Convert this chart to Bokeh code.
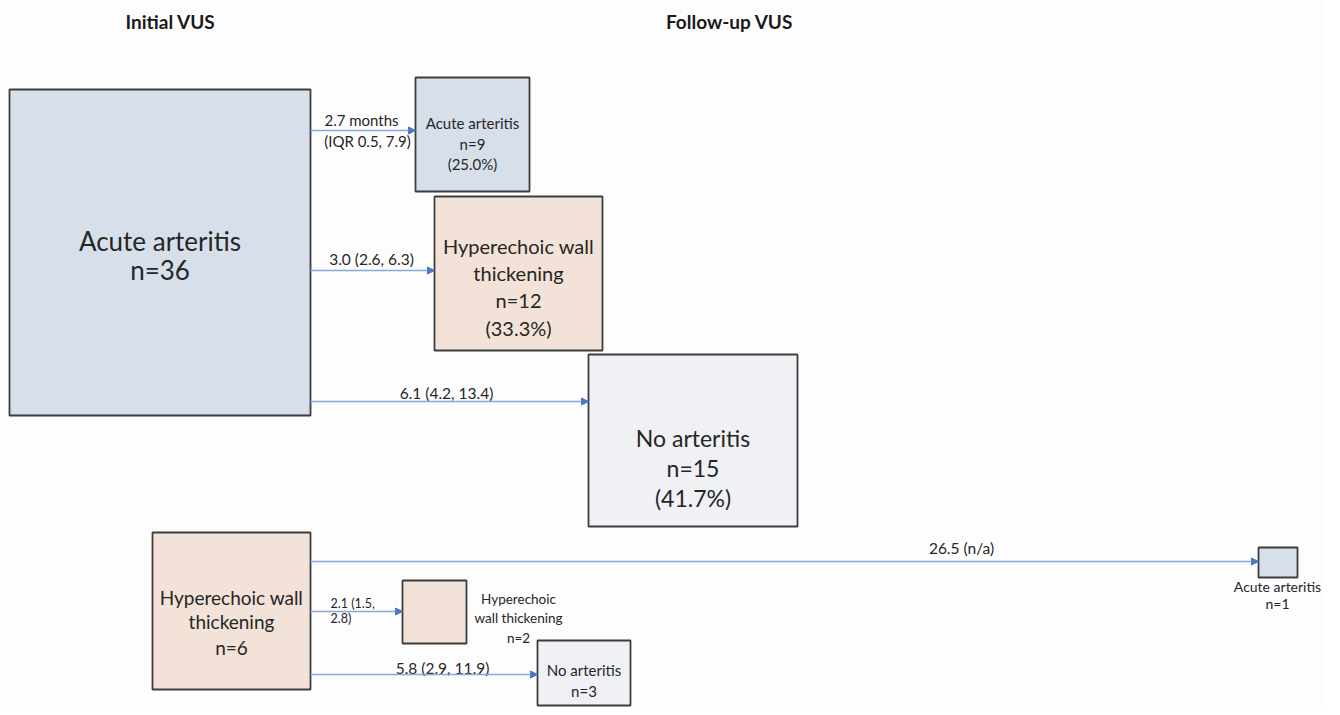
from bokeh.plotting import figure
from bokeh.models import ColumnDataSource, Arrow, NormalHead, Range1d
from bokeh.core.properties import value
from bokeh.embed import file_html
from bokeh.resources import INLINE

# ---------------- data ----------------
column_titles = ["Initial VUS", "Follow-up VUS"]

box_states = ["Acute arteritis", "Acute arteritis", "Hyperechoic wall thickening",
              "No arteritis", "Hyperechoic wall thickening", "Hyperechoic wall thickening",
              "No arteritis", "Acute arteritis"]
box_counts = [36, 9, 12, 15, 6, 2, 3, 1]
box_pcts = ["", "(25.0%)", "(33.3%)", "(41.7%)", "", "", "", ""]

flow_from = [0, 0, 0, 4, 4, 4]
flow_to = [1, 2, 3, 7, 5, 6]
flow_times = ["2.7 months\n(IQR 0.5, 7.9)", "3.0 (2.6, 6.3)", "6.1 (4.2, 13.4)",
              "26.5 (n/a)", "2.1 (1.5,\n2.8)", "5.8 (2.9, 11.9)"]

# ---------------- layout (screen-pixel coordinates) ----------------
box_left = [9, 415, 434, 588, 152, 402, 537, 1258]
box_right = [310, 529, 602, 797, 310, 466, 630, 1297]
box_top = [89, 77, 196, 354, 532, 580, 640, 547]
box_bottom = [415, 191, 350, 526, 689, 643, 705, 577]
state_color = {"Acute arteritis": "#d7dfeb", "Hyperechoic wall thickening": "#f3e2d7",
               "No arteritis": "#eff1f4"}
flow_y = [130, 270, 401, 561, 611, 674]

p = figure(width=1324, height=707, output_backend="svg", toolbar_location=None,
           x_range=Range1d(0, 1324), y_range=Range1d(707, 0), min_border=0)
p.axis.visible = False
p.grid.visible = False
p.outline_line_color = None
p.background_fill_color = "#fdfdfd"
p.border_fill_color = "#fdfdfd"

FONT = value("Lato")

# boxes
bsrc = ColumnDataSource(dict(
    left=box_left, right=box_right, top=box_top, bottom=box_bottom,
    fill=[state_color[s] for s in box_states]))
p.quad(left="left", right="right", top="top", bottom="bottom", source=bsrc,
       fill_color="fill", line_color="#3d3d3d", line_width=1.8)

# flows
for i, (a, b) in enumerate(zip(flow_from, flow_to)):
    y = flow_y[i]
    p.add_layout(Arrow(end=NormalHead(size=7, fill_color="#4a78c2", line_color="#4a78c2"),
                       x_start=box_right[a], y_start=y, x_end=box_left[b], y_end=y,
                       line_color="#8aa8da", line_width=1.3))

# titles
p.text(x=[170, 729], y=[21, 21], text=column_titles, text_font=value("Lato"),
       text_font_style="bold", text_font_size="19px", text_align="center",
       text_baseline="middle", text_color="#1a1a1a")

def txt(x, y, s, size, align="center"):
    p.text(x=[x], y=[y], text=[s], text_font=FONT, text_font_size=size,
           text_align=align, text_baseline="middle", text_color="#262626",
           text_line_height=1.3)

def cx(i):
    return (box_left[i] + box_right[i]) / 2

# box texts
txt(cx(0), 240, box_states[0], "26px")
txt(cx(0), 269, f"n={box_counts[0]}", "26px")

txt(cx(1), 122, box_states[1], "15px")
txt(cx(1), 143, f"n={box_counts[1]}", "15px")
txt(cx(1), 163, box_pcts[1], "15px")

txt(cx(2), 245, "Hyperechoic wall", "20px")
txt(cx(2), 272, "thickening", "20px")
txt(cx(2), 299, f"n={box_counts[2]}", "20px")
txt(cx(2), 327, box_pcts[2], "20px")

txt(cx(3), 437, box_states[3], "23px")
txt(cx(3), 467, f"n={box_counts[3]}", "23px")
txt(cx(3), 497, box_pcts[3], "23px")

txt(cx(4), 597, "Hyperechoic wall", "19px")
txt(cx(4), 621, "thickening", "19px")
txt(cx(4), 647, f"n={box_counts[4]}", "19px")

txt(518, 598, "Hyperechoic", "13.5px")
txt(518, 617, "wall thickening", "13.5px")
txt(518, 637, f"n={box_counts[5]}", "13.5px")

txt(cx(6), 669, box_states[6], "15px")
txt(cx(6), 690, f"n={box_counts[6]}", "15px")

txt(1277, 586, box_states[7], "14px")
txt(1277, 603, f"n={box_counts[7]}", "14px")

# flow labels
lab = flow_times
l0 = lab[0].split("\n")
txt(361, 119, l0[0], "15px")
txt(367, 140, l0[1], "15px")
txt(371, 258, lab[1], "15.5px")
txt(446, 392, lab[2], "15.5px")
txt(961, 547, lab[3], "15.5px")
l4 = lab[4].split("\n")
txt(330, 603, l4[0], "12.5px", align="left")
txt(330, 618, l4[1], "12.5px", align="left")
txt(442, 667, lab[5], "15.5px")

open("out.html", "w").write(file_html(p, INLINE))
